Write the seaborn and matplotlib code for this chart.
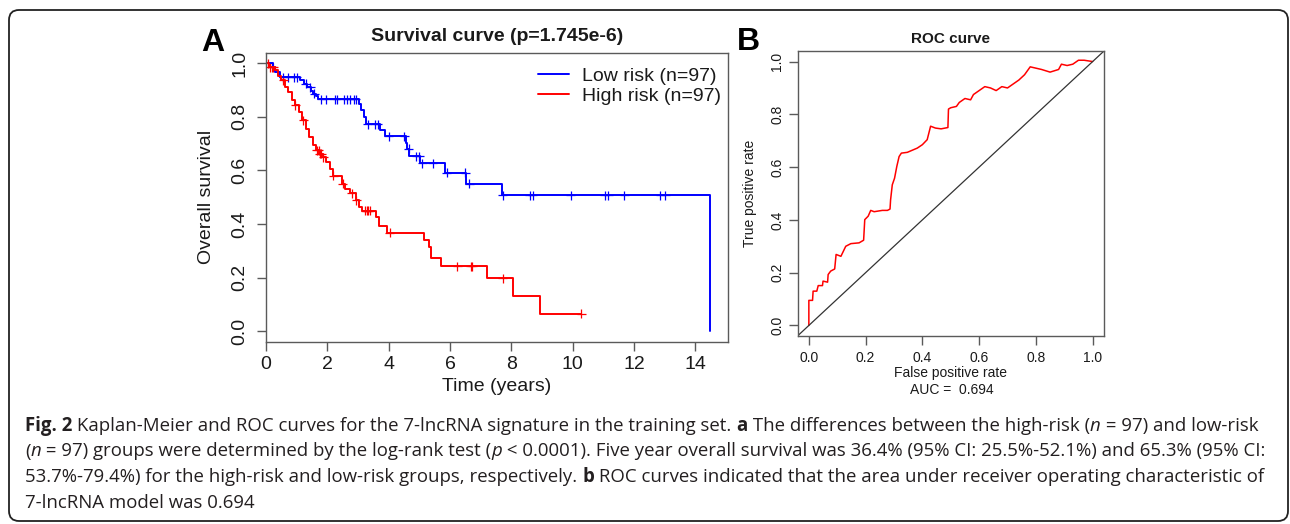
import matplotlib
matplotlib.use("Agg")
import matplotlib.pyplot as plt
from matplotlib.patches import FancyBboxPatch
from matplotlib.transforms import IdentityTransform
import numpy as np
import pandas as pd
import seaborn as sns

# ---------------- data ----------------
low_time = [0, 0.22, 0.30, 0.45, 1.10, 1.23, 1.35, 1.46, 1.54, 1.63, 1.70, 3.03, 3.11, 3.20,
            3.25, 3.70, 3.87, 4.55, 4.60, 4.66, 5.03, 5.84, 6.51, 7.69, 14.48]
low_surv = [1.0, 0.985, 0.969, 0.948, 0.938, 0.923, 0.911, 0.898, 0.886, 0.876, 0.866, 0.849,
            0.824, 0.800, 0.772, 0.750, 0.727, 0.702, 0.681, 0.653, 0.626, 0.591, 0.551, 0.508, 0.0]
low_censor = [0.56, 0.73, 0.90, 1.00, 1.30, 1.45, 1.58, 1.80, 1.96, 2.24, 2.30, 2.53, 2.64, 2.75,
              2.86, 2.92, 3.31, 3.54, 3.65, 4.00, 4.50, 4.65, 4.90, 5.00, 5.10, 5.44, 5.90, 6.50,
              6.62, 7.72, 8.59, 8.70, 9.93, 11.05, 11.16, 11.67, 12.85, 13.02]

high_time = [0, 0.11, 0.28, 0.39, 0.50, 0.62, 0.73, 0.84, 0.95, 1.07, 1.18, 1.29, 1.40, 1.52,
             1.63, 1.74, 1.85, 1.96, 2.08, 2.19, 2.47, 2.58, 2.75, 2.92, 3.03, 3.14, 3.59, 3.68,
             3.93, 5.14, 5.30, 5.39, 5.70, 7.20, 8.06, 8.92, 10.27]
high_surv = [1.0, 0.985, 0.973, 0.954, 0.936, 0.911, 0.892, 0.861, 0.843, 0.818, 0.787, 0.756,
             0.725, 0.694, 0.675, 0.663, 0.650, 0.632, 0.607, 0.580, 0.551, 0.532, 0.514, 0.489,
             0.464, 0.449, 0.427, 0.392, 0.368, 0.340, 0.315, 0.275, 0.243, 0.198, 0.132, 0.066,
             0.066]
high_censor = [0.08, 0.13, 0.20, 0.24, 0.56, 0.95, 1.22, 1.65, 1.72, 1.76, 1.80, 1.87, 2.19, 2.50,
               2.79, 2.95, 3.23, 3.28, 3.33, 3.39, 4.04, 6.23, 6.68, 6.73, 7.72, 10.27]

roc_fpr = [0, 0, 0.013, 0.015, 0.028, 0.033, 0.048, 0.050, 0.066, 0.068, 0.077, 0.091, 0.096,
           0.113, 0.130, 0.148, 0.177, 0.193, 0.197, 0.209, 0.218, 0.230, 0.259, 0.277, 0.286,
           0.288, 0.294, 0.302, 0.310, 0.318, 0.326, 0.347, 0.382, 0.400, 0.417, 0.429, 0.446,
           0.466, 0.490, 0.492, 0.500, 0.520, 0.530, 0.550, 0.570, 0.580, 0.600, 0.620, 0.640,
           0.660, 0.680, 0.700, 0.720, 0.740, 0.760, 0.780, 0.800, 0.820, 0.850, 0.880, 0.890,
           0.910, 0.930, 0.950, 0.970, 1.0]
roc_tpr = [0, 0.095, 0.095, 0.130, 0.130, 0.151, 0.151, 0.168, 0.164, 0.193, 0.206, 0.214, 0.269,
           0.262, 0.300, 0.310, 0.313, 0.323, 0.401, 0.414, 0.436, 0.431, 0.436, 0.436, 0.441,
           0.476, 0.533, 0.558, 0.603, 0.640, 0.653, 0.656, 0.672, 0.685, 0.704, 0.755, 0.748,
           0.745, 0.750, 0.820, 0.825, 0.830, 0.845, 0.860, 0.855, 0.875, 0.890, 0.905, 0.900,
           0.890, 0.905, 0.900, 0.915, 0.930, 0.950, 0.980, 0.975, 0.970, 0.960, 0.970, 0.990,
           0.985, 0.990, 1.005, 1.005, 1.0]

group_labels = ["Low risk (n=97)", "High risk (n=97)"]
km_title = "Survival curve (p=1.745e-6)"
roc_title = "ROC curve"
auc_text = "AUC =  0.694"
x_ticks_km = [0, 2, 4, 6, 8, 10, 12, 14]
unit_ticks = [0.0, 0.2, 0.4, 0.6, 0.8, 1.0]

caption_lines = [
    [("Fig. 2", "bold", "normal"),
     (" Kaplan-Meier and ROC curves for the 7-lncRNA signature in the training set. ", "normal", "normal"),
     ("a", "bold", "normal"),
     (" The differences between the high-risk (", "normal", "normal"),
     ("n", "normal", "italic"),
     (" = 97) and low-risk", "normal", "normal")],
    [("(", "normal", "normal"), ("n", "normal", "italic"),
     (" = 97) groups were determined by the log-rank test (", "normal", "normal"),
     ("p", "normal", "italic"),
     (" < 0.0001). Five year overall survival was 36.4% (95% CI: 25.5%-52.1%) and 65.3% (95% CI:", "normal", "normal")],
    [("53.7%-79.4%) for the high-risk and low-risk groups, respectively. ", "normal", "normal"),
     ("b", "bold", "normal"),
     (" ROC curves indicated that the area under receiver operating characteristic of", "normal", "normal")],
    [("7-lncRNA model was 0.694", "normal", "normal")],
]

# ---------------- style ----------------
sns.set_theme(style="ticks")
plt.rcParams["font.family"] = ["Liberation Sans", "DejaVu Sans"]
BOX = "#5a5a5a"
TXT = "#1a1a1a"
plt.rcParams.update({
    "axes.edgecolor": BOX, "axes.linewidth": 1.0,
    "xtick.color": BOX, "ytick.color": BOX,
    "xtick.labelcolor": TXT, "ytick.labelcolor": TXT,
    "axes.labelcolor": TXT, "text.color": TXT,
})

W, H = 1290, 524
fig = plt.figure(figsize=(W / 100, H / 100), dpi=100)
fig.patch.set_facecolor("white")


def ax_rect(left, top, right, bottom):
    return [left / W, 1 - bottom / H, (right - left) / W, (bottom - top) / H]


axA = fig.add_axes(ax_rect(266, 52.5, 727.7, 342))
axB = fig.add_axes(ax_rect(797.5, 51, 1104, 336))


def step_lookup(times, survs, t):
    idx = np.searchsorted(np.asarray(times), t, side="right") - 1
    return np.asarray(survs)[idx]


km_frames = []
cen_frames = []
for lab, tt, ss, cc in [(group_labels[0], low_time, low_surv, low_censor),
                        (group_labels[1], high_time, high_surv, high_censor)]:
    km_frames.append(pd.DataFrame({"time": tt, "surv": ss, "group": lab}))
    cen_frames.append(pd.DataFrame({"time": cc, "surv": step_lookup(tt, ss, cc), "group": lab}))
km = pd.concat(km_frames, ignore_index=True)
cen = pd.concat(cen_frames, ignore_index=True)
pal = {group_labels[0]: "#0000ff", group_labels[1]: "#ff0000"}

sns.lineplot(data=km, x="time", y="surv", hue="group", palette=pal, estimator=None,
             sort=False, drawstyle="steps-post", linewidth=1.4, ax=axA)
sns.scatterplot(data=cen, x="time", y="surv", hue="group", palette=pal, marker="+",
                s=42, linewidth=0.9, ax=axA, legend=False)

axA.set_xlim(0, 15.05)
axA.set_ylim(-0.04, 1.04)
axA.set_xticks(x_ticks_km)
axA.set_xticklabels([str(v) for v in x_ticks_km])
axA.set_yticks(unit_ticks)
axA.set_yticklabels([f"{v:.1f}" for v in unit_ticks])
axA.tick_params(axis="both", labelsize=14, length=6.5, width=1.0)
axA.tick_params(axis="x", pad=3.5)
axA.tick_params(axis="y", pad=6, labelrotation=90)
for lab in axA.get_yticklabels():
    lab.set_va("center")
for sp in axA.spines.values():
    sp.set_visible(True)
axA.set_xlabel("Time (years)", fontsize=14)
axA.set_ylabel("Overall survival", fontsize=14)
axA.xaxis.set_label_coords(0.5, -0.153)
axA.xaxis.label.set_va("center")
axA.yaxis.set_label_coords(-0.128, 0.5)
axA.yaxis.label.set_va("center")
axA.text(0.5, 1.055, km_title, transform=axA.transAxes, ha="center", va="center",
         fontsize=14, fontweight="bold")
handles, labels = axA.get_legend_handles_labels()
axA.legend(handles, labels, loc="upper right", bbox_to_anchor=(0.985, 0.948), frameon=False,
           fontsize=14, handlelength=1.6, handletextpad=0.65, labelspacing=0.13,
           borderpad=0, borderaxespad=0)

# ROC
roc = pd.DataFrame({"fpr": roc_fpr, "tpr": roc_tpr})
sns.lineplot(data=roc, x="fpr", y="tpr", sort=False, estimator=None, color="#ff0000",
             linewidth=1.1, ax=axB)
axB.axline((0, 0), (1, 1), color="#333333", linewidth=0.9)
axB.set_xlim(-0.04, 1.04)
axB.set_ylim(-0.04, 1.04)
axB.set_xticks(unit_ticks)
axB.set_xticklabels([f"{v:.1f}" for v in unit_ticks])
axB.set_yticks(unit_ticks)
axB.set_yticklabels([f"{v:.1f}" for v in unit_ticks])
axB.tick_params(axis="both", labelsize=10, length=6.5, width=1.0)
axB.tick_params(axis="x", pad=4.3)
axB.tick_params(axis="y", pad=3, labelrotation=90)
for lab in axB.get_yticklabels():
    lab.set_va("center")
for sp in axB.spines.values():
    sp.set_visible(True)
axB.set_xlabel("False positive rate", fontsize=10)
axB.set_ylabel("True positive rate", fontsize=10)
axB.xaxis.set_label_coords(0.5, -0.130)
axB.xaxis.label.set_va("center")
axB.yaxis.set_label_coords(-0.155, 0.5)
axB.yaxis.label.set_va("center")
axB.text(0.504, -0.189, auc_text, transform=axB.transAxes, ha="center", va="center", fontsize=10)
axB.text(0.5, 1.041, roc_title, transform=axB.transAxes, ha="center", va="center",
         fontsize=11, fontweight="bold")

# panel letters
fig.text(213 / W, 1 - 43 / H, "A", fontsize=23, fontweight="bold", ha="center", va="center",
         color="black")
fig.text(748 / W, 1 - 42 / H, "B", fontsize=23, fontweight="bold", ha="center", va="center",
         color="black")

# border
border = FancyBboxPatch((9, 524 - 521), 1279, 511, boxstyle="round,pad=0,rounding_size=10",
                        transform=IdentityTransform(), facecolor="none", edgecolor="#222222",
                        linewidth=1.3)
fig.add_artist(border)

# caption
renderer = fig.canvas.get_renderer()
CAP_FONT = ["Open Sans", "DejaVu Sans"]


def piece_width(txt, size, weight, style):
    t = fig.text(0, 0, txt + "|", fontsize=size, fontweight=weight, fontstyle=style,
                 family=CAP_FONT)
    w1 = t.get_window_extent(renderer).width
    t.set_text("|")
    w2 = t.get_window_extent(renderer).width
    t.remove()
    return w1 - w2


base = 12.0
w_line2 = sum(piece_width(p, base, wt, st) for p, wt, st in caption_lines[1])
cap_size = base * (1266.5 - 25) / w_line2

line_y = [426, 451.5, 477, 502.5]
for pieces, yy in zip(caption_lines, line_y):
    x = 25.0
    for txt, wt, st in pieces:
        fig.text(x / W, 1 - yy / H, txt, fontsize=cap_size, fontweight=wt, fontstyle=st,
                 family=CAP_FONT, ha="left", va="center", color="#231f20")
        x += piece_width(txt, cap_size, wt, st)

fig.savefig("out.png", dpi=100, facecolor="white")
